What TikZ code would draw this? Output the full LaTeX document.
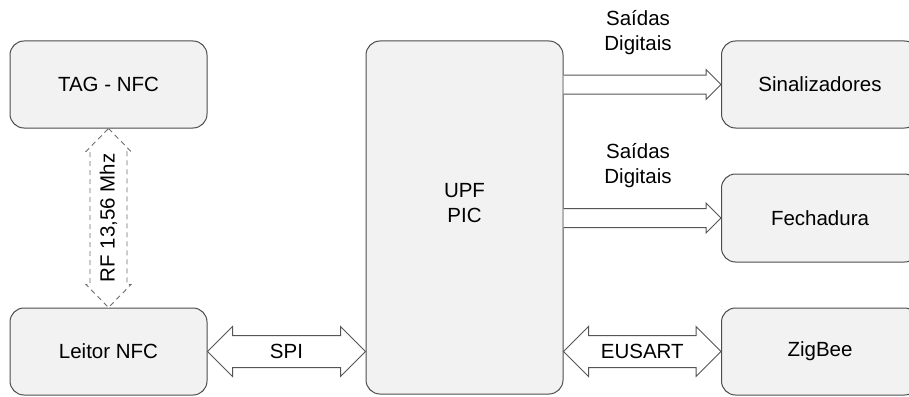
\documentclass[tikz,border=0pt]{standalone}
\usepackage{fontspec}
\setmainfont{Liberation Sans}
\usetikzlibrary{calc}

\definecolor{boxfill}{HTML}{F2F2F2}
\definecolor{boxline}{HTML}{4D4D4D}
\definecolor{arrline}{HTML}{555555}

\tikzset{
  block/.style={draw=boxline, line width=1pt, fill=boxfill, rounded corners=14pt,
                minimum width=197pt, align=center, inner sep=0pt},
  blockarrow/.style={draw=arrline, line width=1pt, fill=white, line join=miter},
  rfarrow/.style={draw=gray!85!black, line width=0.9pt, fill=white, dash pattern=on 5pt off 4pt},
  lbl/.style={align=center, inner sep=0pt}
}

% horizontal double block arrow: from, to, shaft half width, head half width, head length, style
\newcommand\hdouble[6]{%
  \path[#6] let \p1=(#1), \p2=(#2) in
    (\x1,\y1) -- (\x1+#5,\y1+#4) -- (\x1+#5,\y1+#3) -- (\x2-#5,\y1+#3) -- (\x2-#5,\y1+#4)
    -- (\x2,\y1) -- (\x2-#5,\y1-#4) -- (\x2-#5,\y1-#3) -- (\x1+#5,\y1-#3) -- (\x1+#5,\y1-#4) -- cycle;}
% horizontal single block arrow
\newcommand\hsingle[6]{%
  \path[#6] let \p1=(#1), \p2=(#2) in
    (\x1,\y1+#3) -- (\x2-#5,\y1+#3) -- (\x2-#5,\y1+#4) -- (\x2,\y1)
    -- (\x2-#5,\y1-#4) -- (\x2-#5,\y1-#3) -- (\x1,\y1-#3);}
% vertical double block arrow (from top to bottom)
\newcommand\vdouble[6]{%
  \path[#6] let \p1=(#1), \p2=(#2) in
    (\x1,\y1) -- (\x1+#4,\y1-#5) -- (\x1+#3,\y1-#5) -- (\x1+#3,\y2+#5) -- (\x1+#4,\y2+#5)
    -- (\x1,\y2) -- (\x1-#4,\y2+#5) -- (\x1-#3,\y2+#5) -- (\x1-#3,\y1-#5) -- (\x1-#4,\y1-#5) -- cycle;}

\begin{document}
\begin{tikzpicture}[x=1pt, y=-1pt, font=\fontsize{20.5}{25}\selectfont]
  \useasboundingbox (0,0) rectangle (909,396);
  \begin{scope}
  \clip (0,0) rectangle (909,396);

  % blocks
  \node[block, minimum height=87pt]  (tag)    at (108.5,84.5)  {TAG - NFC};
  \node[block, minimum height=87pt]  (leitor) at (108.5,351.5) {Leitor NFC};
  \node[block, minimum height=353pt] (upf)    at (464.5,217.5) {};
  \node[block, minimum height=87pt]  (sin)    at (820,84.5)    {Sinalizadores};
  \node[block, minimum height=88pt]  (fech)   at (820,218)     {Fechadura};
  \node[block, minimum height=87pt]  (zig)    at (820,351.5)   {ZigBee};
  \node[lbl] (upftxt) at (464.5,203) {UPF\\PIC};

  % outputs towards the right-hand blocks
  \coordinate (o1) at (upf.east |- sin.west);
  \coordinate (o2) at (upf.east |- fech.west);
  \hsingle{o1}{sin.west}{9.5pt}{15pt}{15pt}{blockarrow}
  \hsingle{o2}{fech.west}{9.5pt}{15pt}{15pt}{blockarrow}
  \node[lbl] (sd1) at (638,33)  {Saídas\\Digitais};
  \node[lbl] (sd2) at (638,166) {Saídas\\Digitais};

  % SPI link
  \coordinate (s1) at (upf.west |- leitor.east);
  \hdouble{leitor.east}{s1}{16pt}{25pt}{25pt}{blockarrow}
  \node[lbl] (spi) at ($(leitor.east)!0.5!(s1)$) {SPI};

  % EUSART link
  \coordinate (e1) at (upf.east |- zig.west);
  \hdouble{e1}{zig.west}{16pt}{25pt}{25pt}{blockarrow}
  \node[lbl] (eus) at ($(e1)!0.5!(zig.west)$) {EUSART};

  % RF link between tag and reader
  \vdouble{tag.south}{leitor.north}{18.5pt}{22.5pt}{23pt}{rfarrow}
  \node[lbl, rotate=90] (rf) at ($(tag.south)!0.5!(leitor.north)$) {RF 13,56 Mhz};
  \end{scope}
\end{tikzpicture}
\end{document}
